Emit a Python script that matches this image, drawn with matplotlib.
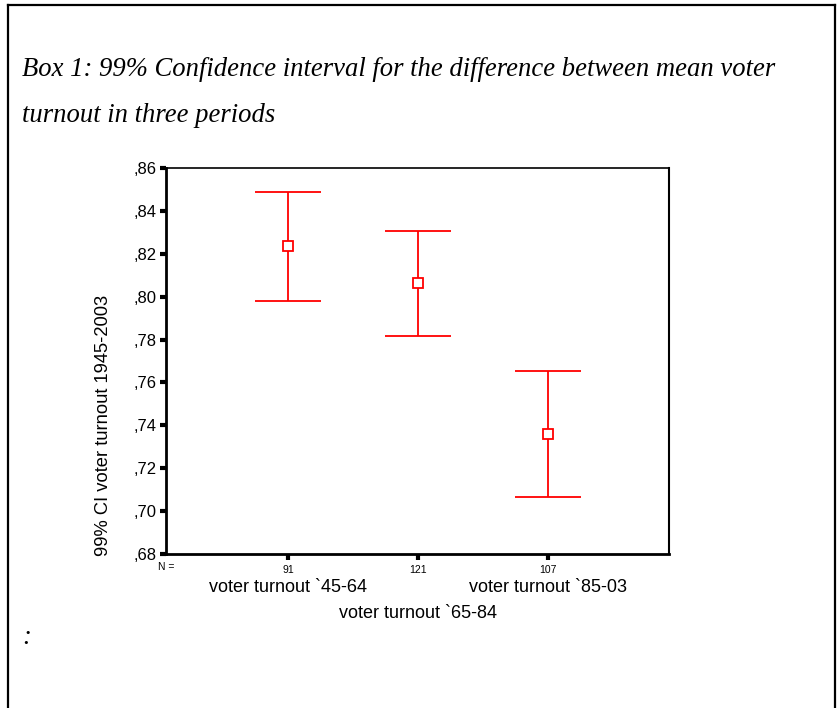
import matplotlib.pyplot as plt
from matplotlib.lines import Line2D
from matplotlib.transforms import blended_transform_factory

# values
groups = ["voter turnout `45-64", "voter turnout `65-84", "voter turnout `85-03"]
n_counts = ["91", "121", "107"]
means = [0.8236, 0.8064, 0.7360]
ci_low = [0.7980, 0.7817, 0.7066]
ci_high = [0.8488, 0.8306, 0.7653]
yticks = [0.68, 0.70, 0.72, 0.74, 0.76, 0.78, 0.80, 0.82, 0.84, 0.86]
ytick_labels = [",68", ",70", ",72", ",74", ",76", ",78", ",80", ",82", ",84", ",86"]

W, H = 838, 708
fig = plt.figure(figsize=(W / 100, H / 100), dpi=100)

# outer box (open at the bottom)
for xs, ys in [([8, 8], [0, H - 5]), ([8, 835], [H - 5, H - 5]), ([835, 835], [H - 5, 0])]:
    fig.add_artist(Line2D([x / W for x in xs], [y / H for y in ys], color="black", lw=1.6,
                          transform=fig.transFigure))

title_font = dict(family="Liberation Serif", style="italic", fontsize=19.2)
fig.text(22 / W, 1 - 70 / H, "Box 1: 99% Confidence interval for the difference between mean voter",
         va="center", ha="left", **title_font)
fig.text(22 / W, 1 - 115 / H, "turnout in three periods", va="center", ha="left", **title_font)
fig.text(22 / W, 1 - 637 / H, ":", va="center", ha="left", **title_font)

ax = fig.add_axes([166 / W, 154 / H, 503 / W, 386 / H])
x = [1, 2, 3]
lower = [m - lo for m, lo in zip(means, ci_low)]
upper = [hi - m for m, hi in zip(means, ci_high)]
ax.errorbar(x, means, yerr=[lower, upper], fmt="s", color="red", ecolor="red", elinewidth=1.3,
            capsize=24, capthick=1.3, markersize=7, markerfacecolor="white",
            markeredgecolor="red", markeredgewidth=1.3)

ax.set_xlim(0.06, 3.93)
ax.set_ylim(0.68, 0.86)
ax.set_yticks(yticks)
ax.set_yticklabels(ytick_labels, family="Liberation Sans", fontsize=12)
ax.set_xticks(x)
ax.set_xticklabels(n_counts, family="Liberation Sans", fontsize=7.5)
ax.tick_params(axis="both", direction="out", length=4, width=3, pad=3)
ax.tick_params(axis="x", pad=4)

ax.spines["left"].set_linewidth(2)
ax.spines["bottom"].set_linewidth(2)
ax.spines["top"].set_linewidth(1.2)
ax.spines["right"].set_linewidth(1.5)

ax.text(-0.015, -0.034, "N =", transform=ax.transAxes, ha="left", va="center",
        family="Liberation Sans", fontsize=7.5)

trans = blended_transform_factory(ax.transData, ax.transAxes)
label_y = [-0.088, -0.153, -0.088]
for xi, name, ly in zip(x, groups, label_y):
    ax.text(xi, ly, name, transform=trans, ha="center", va="center",
            family="Liberation Sans", fontsize=13)

ax.text(-0.125, 0.334, "99% CI voter turnout 1945-2003", transform=ax.transAxes, rotation=90,
        ha="center", va="center", family="Liberation Sans", fontsize=13.2)

fig.savefig("out.png", dpi=100)
